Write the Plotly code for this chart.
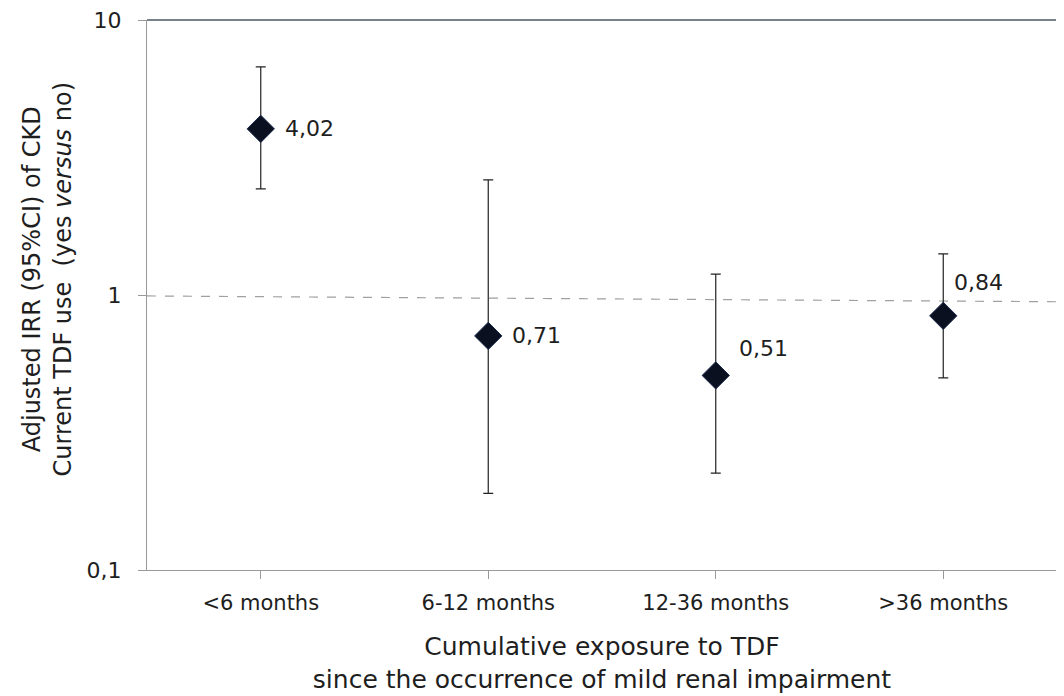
import plotly.graph_objects as go
import math

categories = ["<6 months", "6-12 months", "12-36 months", ">36 months"]
irr = [4.02, 0.71, 0.51, 0.84]
ci_upper = [6.75, 2.62, 1.19, 1.41]
ci_lower = [2.43, 0.19, 0.225, 0.50]
ref_line_x = [-0.5, 3.5]
ref_line_y = [0.992, 0.945]
y_tickvals = [0.1, 1, 10]
y_ticktext = ["0,1", "1", "10"]

FONT = "DejaVu Sans"
TXT = "#1e1e1e"

fig = go.Figure()

fig.add_trace(go.Scatter(
    x=ref_line_x, y=ref_line_y, mode="lines",
    line=dict(color="#a0a0a0", width=1.2, dash="dash"),
    hoverinfo="skip", showlegend=False,
))

fig.add_trace(go.Scatter(
    x=list(range(len(categories))), y=irr, mode="markers",
    marker=dict(symbol="diamond", size=21, color="#0b1020",
                line=dict(color="#1a2a4a", width=1)),
    error_y=dict(type="data", symmetric=False,
                 array=[u - v for u, v in zip(ci_upper, irr)],
                 arrayminus=[v - l for v, l in zip(irr, ci_lower)],
                 color="#222222", thickness=1.2, width=5),
    showlegend=False,
))

label_shift = [(22, 0), (22, 0), (21, 27), (9, 33)]
for i, v in enumerate(irr):
    dx, dy = label_shift[i]
    fig.add_annotation(x=i, y=math.log10(v), xref="x", yref="y",
                       text=f"{v:.2f}".replace(".", ","), showarrow=False,
                       xanchor="left", yanchor="middle", xshift=dx, yshift=dy,
                       font=dict(family=FONT, size=22, color=TXT))

# y-axis title (two lines)
fig.add_annotation(x=0, y=0.5, xref="paper", yref="paper",
                   text="Adjusted IRR (95%CI) of CKD<br>Current TDF use  (yes <i>versus</i> no)",
                   textangle=-90, showarrow=False, xanchor="right", yanchor="middle",
                   xshift=-69, yshift=16,
                   font=dict(family=FONT, size=24, color=TXT))

fig.update_layout(
    width=1064, height=696,
    margin=dict(l=139, r=15, t=12, b=134),
    paper_bgcolor="white", plot_bgcolor="white",
    font=dict(family=FONT, size=22, color=TXT),
    xaxis=dict(
        range=[-0.5, 3.5], tickmode="array",
        tickvals=list(range(len(categories))), ticktext=categories,
        tickson="boundaries", ticks="outside", ticklen=8, tickcolor="#999999",
        showline=True, linecolor="#999999", linewidth=1, mirror=False,
        showgrid=False, zeroline=False, automargin=False,
        ticklabelstandoff=6,
        tickfont=dict(family=FONT, size=21, color=TXT),
        title=dict(text="Cumulative exposure to TDF<br>since the occurrence of mild renal impairment",
                   font=dict(family=FONT, size=25, color=TXT), standoff=23),
    ),
    yaxis=dict(
        type="log", range=[-1, 1], tickmode="array",
        tickvals=y_tickvals, ticktext=y_ticktext,
        ticks="outside", ticklen=8, tickcolor="#999999",
        showline=True, linecolor="#999999", linewidth=1,
        showgrid=False, zeroline=False, automargin=False,
        ticklabeloverflow="allow", ticklabelstandoff=12,
        tickfont=dict(family=FONT, size=22, color=TXT),
    ),
)

# top and right frame lines
fig.add_shape(type="line", xref="paper", yref="paper", x0=0, x1=1, y0=1, y1=1,
              line=dict(color="#4a5866", width=1.5))
fig.add_shape(type="line", xref="paper", yref="paper", x0=1, x1=1, y0=0, y1=1,
              line=dict(color="#8a8f94", width=1.2))

fig.write_html("out.html")
